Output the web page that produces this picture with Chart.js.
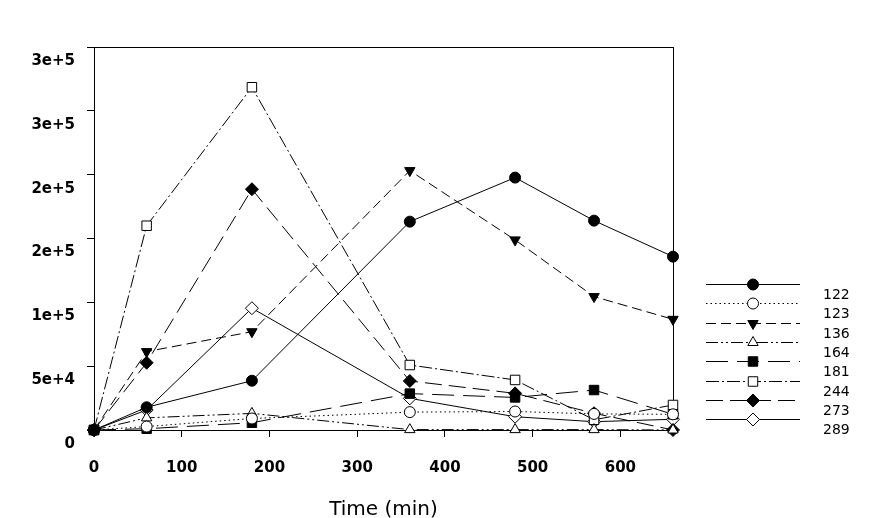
<!DOCTYPE html>
<html>
<head>
  <title>Time course</title>
  <meta charset="utf-8" />
  <script src="https://cdn.jsdelivr.net/npm/chart.js"></script>
  <style>
    body { margin: 0; background: #fff; }
    #wrap { width: 876px; height: 518px; overflow: hidden; }
  </style>
</head>
<body>
  <div id="wrap"><canvas id="chart" width="876" height="518"></canvas></div>
  <script>
    // sampling times (min)
    const times = [0, 60, 180, 360, 480, 570, 660];

    const labels = ['122', '123', '136', '164', '181', '244', '273', '289'];

    const s122 = [0, 17800, 38600, 163200, 197700, 164000, 135800];
    const s123 = [0, 2700, 9000, 14000, 14500, 12600, 12300];
    const s136 = [0, 61400, 77000, 203200, 148900, 104500, 86700];
    const s164 = [0, 9500, 13000, 300, 300, 300, 0];
    const s181 = [0, 1000, 5700, 28500, 25500, 31300, 12300];
    const s244 = [0, 160000, 268500, 50900, 39200, 8000, 19600];
    const s273 = [0, 52700, 188600, 38400, 28700, 13100, 0];
    const s289 = [0, 15700, 95400, 24800, 10400, 6500, 8400];

    const xTicks = [0, 100, 200, 300, 400, 500, 600];
    const yTicks = [0, 50000, 100000, 150000, 200000, 250000, 300000];

    const series = [s122, s123, s136, s164, s181, s244, s273, s289];
    const styles = [
      { dash: [], point: 'circle', fill: '#000', r: 5.5, rot: 0 },
      { dash: [1.5, 3], point: 'circle', fill: '#fff', r: 5.5, rot: 0 },
      { dash: [10, 5], point: 'triangle', fill: '#000', r: 6, rot: 180 },
      { dash: [12, 3, 2, 3, 2, 3], point: 'triangle', fill: '#fff', r: 6, rot: 0 },
      { dash: [22, 9], point: 'rect', fill: '#000', r: 6.7, rot: 0 },
      { dash: [13, 3, 2, 3], point: 'rect', fill: '#fff', r: 6.7, rot: 0 },
      { dash: [17, 7], point: 'rectRot', fill: '#000', r: 6.5, rot: 0 },
      { dash: [], point: 'rectRot', fill: '#fff', r: 6.5, rot: 0 }
    ];

    const datasets = series.map((s, i) => ({
      label: labels[i],
      data: s.map((v, j) => ({ x: times[j], y: v })),
      borderColor: '#000',
      borderWidth: 1,
      borderDash: styles[i].dash,
      backgroundColor: styles[i].fill,
      pointStyle: styles[i].point,
      pointRotation: styles[i].rot,
      pointRadius: styles[i].r,
      pointBackgroundColor: styles[i].fill,
      pointBorderColor: '#000',
      pointBorderWidth: 1,
      tension: 0,
      clip: false
    }));

    const framePlugin = {
      id: 'frame',
      beforeDatasetsDraw(chart) {
        const a = chart.chartArea, ctx = chart.ctx;
        ctx.save();
        ctx.strokeStyle = '#000';
        ctx.lineWidth = 1;
        ctx.strokeRect(Math.round(a.left) + 0.5, Math.round(a.top) + 0.5,
          Math.round(a.right - a.left), Math.round(a.bottom - a.top));
        ctx.restore();
      }
    };

    const legendPlugin = {
      id: 'sideLegend',
      afterDraw(chart) {
        const ctx = chart.ctx;
        ctx.save();
        chart.data.datasets.forEach((ds, i) => {
          const y = Math.round(284 + i * 19.3) + 0.5;
          ctx.strokeStyle = '#000';
          ctx.lineWidth = 1;
          ctx.setLineDash(ds.borderDash);
          ctx.beginPath();
          ctx.moveTo(706, y);
          ctx.lineTo(800, y);
          ctx.stroke();
          ctx.setLineDash([]);
          ctx.fillStyle = ds.pointBackgroundColor;
          Chart.helpers.drawPoint(ctx, {
            pointStyle: ds.pointStyle,
            rotation: ds.pointRotation,
            radius: ds.pointRadius,
            borderWidth: 1
          }, 753, y);
          ctx.fillStyle = '#000';
          ctx.font = '14px "DejaVu Sans"';
          ctx.textBaseline = 'middle';
          ctx.textAlign = 'left';
          ctx.fillText(ds.label, 823, y + 10.5);
        });
        ctx.restore();
      }
    };

    new Chart(document.getElementById('chart'), {
      type: 'line',
      data: { datasets },
      plugins: [framePlugin, legendPlugin],
      options: {
        responsive: false,
        devicePixelRatio: 1,
        animation: false,
        layout: { padding: { left: 0, top: 47, right: 203, bottom: 0 } },
        plugins: { legend: { display: false }, tooltip: { enabled: false } },
        scales: {
          x: {
            type: 'linear',
            min: 0,
            max: 660,
            afterBuildTicks: s => { s.ticks = xTicks.map(v => ({ value: v })); },
            afterFit: s => { s.height = 88; },
            grid: { drawOnChartArea: false, tickLength: 7, color: '#000' },
            border: { color: '#000', width: 1 },
            ticks: {
              color: '#000',
              padding: 22,
              maxRotation: 0,
              font: { family: 'DejaVu Sans', size: 15, weight: 'bold' }
            },
            title: {
              display: true,
              text: 'Time (min)',
              color: '#000',
              padding: { top: 0, bottom: -4 },
              font: { family: 'DejaVu Sans', size: 20 }
            }
          },
          y: {
            min: 0,
            max: 300000,
            afterBuildTicks: s => { s.ticks = yTicks.map(v => ({ value: v })); },
            afterFit: s => { s.width = 94; },
            grid: { drawOnChartArea: false, tickLength: 7, color: '#000' },
            border: { color: '#000', width: 1 },
            ticks: {
              color: '#000',
              padding: 12,
              labelOffset: 14,
              font: { family: 'DejaVu Sans', size: 15, weight: 'bold' },
              callback: v => v === 0 ? '0' : Number(v).toExponential(0)
            }
          }
        }
      }
    });
  </script>
</body>
</html>
